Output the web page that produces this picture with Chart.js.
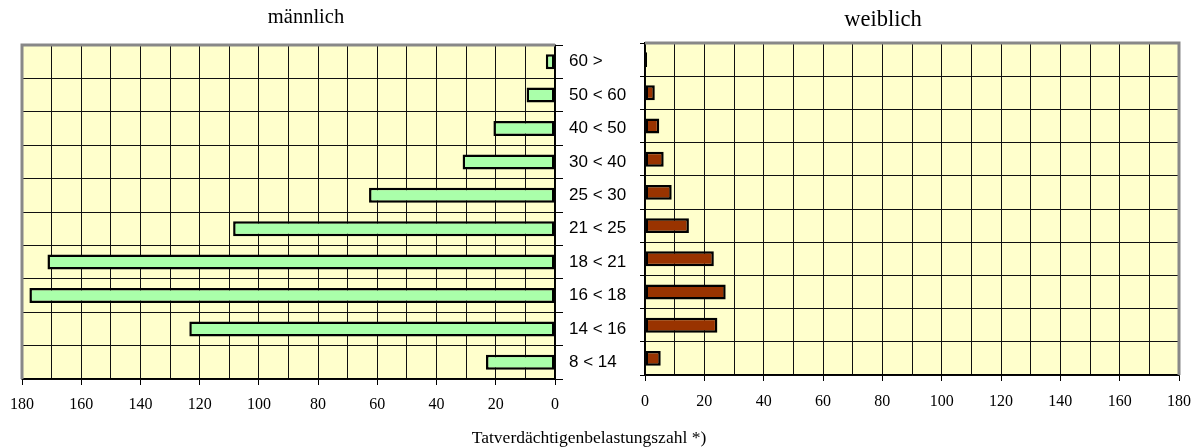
<!DOCTYPE html>
<html>
<head>
<meta charset="utf-8">
<script src="https://cdn.jsdelivr.net/npm/chart.js@4/dist/chart.umd.min.js"></script>
<style>
  body { margin: 0; background: #fff; }
  #wrap { position: relative; width: 1202px; height: 447px; overflow: hidden; }
  canvas { position: absolute; top: 0; }
  .lbl { position: absolute; font-family: "Liberation Serif", serif; color: #000; white-space: nowrap; transform: translateX(-50%); line-height: 1.15; }
</style>
</head>
<body>
<div id="wrap">
  <canvas id="male" width="640" height="447" style="left:0"></canvas>
  <canvas id="female" width="572" height="447" style="left:630px"></canvas>
  <div class="lbl" style="left:306px; top:5px; font-size:20.5px;">männlich</div>
  <div class="lbl" style="left:883px; top:6px; font-size:22.5px;">weiblich</div>
  <div class="lbl" style="left:589px; top:427px; font-size:17.5px;">Tatverdächtigenbelastungszahl *)</div>
</div>
<script>
// age groups, top to bottom
const ageGroups = ["60 >", "50 < 60", "40 < 50", "30 < 40", "25 < 30", "21 < 25", "18 < 21", "16 < 18", "14 < 16", "8 < 14"];
// TVBZ values
const maleTVBZ = [3.1, 9.6, 20.8, 31.2, 62.8, 108.7, 171.4, 177.5, 123.5, 23.3];
const femaleTVBZ = [0.7, 3.3, 4.8, 6.3, 9.0, 14.8, 23.2, 27.2, 24.4, 5.3];
const xMin = 0, xMax = 180, xStep = 10, labelStep = 20;

// yellow plot area + grey frame on the outer sides
const plotFrame = {
  id: "plotFrame",
  beforeDraw(chart) {
    const { ctx, chartArea: a } = chart;
    ctx.save();
    ctx.fillStyle = "#ffffcc";
    ctx.fillRect(a.left, a.top, a.width, a.height);
    ctx.restore();
  },
  afterDraw(chart, args, opts) {
    const { ctx, chartArea: a } = chart;
    ctx.save();
    ctx.strokeStyle = "#888";
    ctx.lineWidth = 3;
    ctx.beginPath();
    if (opts.side === "left") {
      ctx.moveTo(a.left, a.bottom);
      ctx.lineTo(a.left, a.top);
      ctx.lineTo(a.right, a.top);
    } else {
      ctx.moveTo(a.left, a.top);
      ctx.lineTo(a.right, a.top);
      ctx.lineTo(a.right, a.bottom);
    }
    ctx.stroke();
    ctx.restore();
  }
};

function makeChart(id, values, color, opt) {
  return new Chart(document.getElementById(id), {
    type: "bar",
    plugins: [plotFrame],
    data: {
      labels: ageGroups,
      datasets: [{
        data: values,
        backgroundColor: color,
        borderColor: "#000",
        borderWidth: 2.5,
        borderSkipped: false,
        barPercentage: 0.45,
        categoryPercentage: 1
      }]
    },
    options: {
      indexAxis: "y",
      responsive: false,
      animation: false,
      layout: { padding: opt.padding },
      plugins: {
        legend: { display: false },
        tooltip: { enabled: false },
        title: { display: false },
        plotFrame: { side: opt.side }
      },
      scales: {
        x: {
          reverse: opt.reverse,
          min: xMin,
          max: xMax,
          afterFit: (s) => { s.height = opt.xHeight; },
          border: { color: "#000", width: 1.5 },
          grid: {
            color: "#111",
            lineWidth: 1,
            tickLength: 6,
            tickColor: (c) => (c.tick && c.tick.value % labelStep === 0 ? "#000" : "rgba(0,0,0,0)")
          },
          ticks: {
            stepSize: xStep,
            autoSkip: false,
            maxRotation: 0,
            padding: opt.xPad,
            color: "#000",
            font: { family: "Liberation Serif", size: 16 },
            callback: (v) => (v % labelStep === 0 ? v : "")
          }
        },
        y: {
          position: opt.yPos,
          afterFit: (s) => { s.width = opt.yWidth; },
          border: { color: "#000", width: 1.5 },
          grid: { offset: true, color: "#111", lineWidth: 1, tickLength: opt.yTick, tickColor: "#000" },
          ticks: {
            padding: 6,
            color: "#000",
            font: { family: "Liberation Sans", size: 17 },
            callback: opt.showCats ? (v, i) => ageGroups[i] : () => ""
          }
        }
      }
    }
  });
}

makeChart("male", maleTVBZ, "#aaffaa", {
  side: "left", reverse: true, yPos: "right", yWidth: 85, yTick: 8, xHeight: 68, xPad: 10, showCats: true,
  padding: { left: 22, top: 45, right: 0, bottom: 0 }
});
makeChart("female", femaleTVBZ, "#993300", {
  side: "right", reverse: false, yPos: "left", yWidth: 13, yTick: 5, xHeight: 72, xPad: 11, showCats: false,
  padding: { left: 0, top: 43, right: 22, bottom: 0 }
});
</script>
</body>
</html>
